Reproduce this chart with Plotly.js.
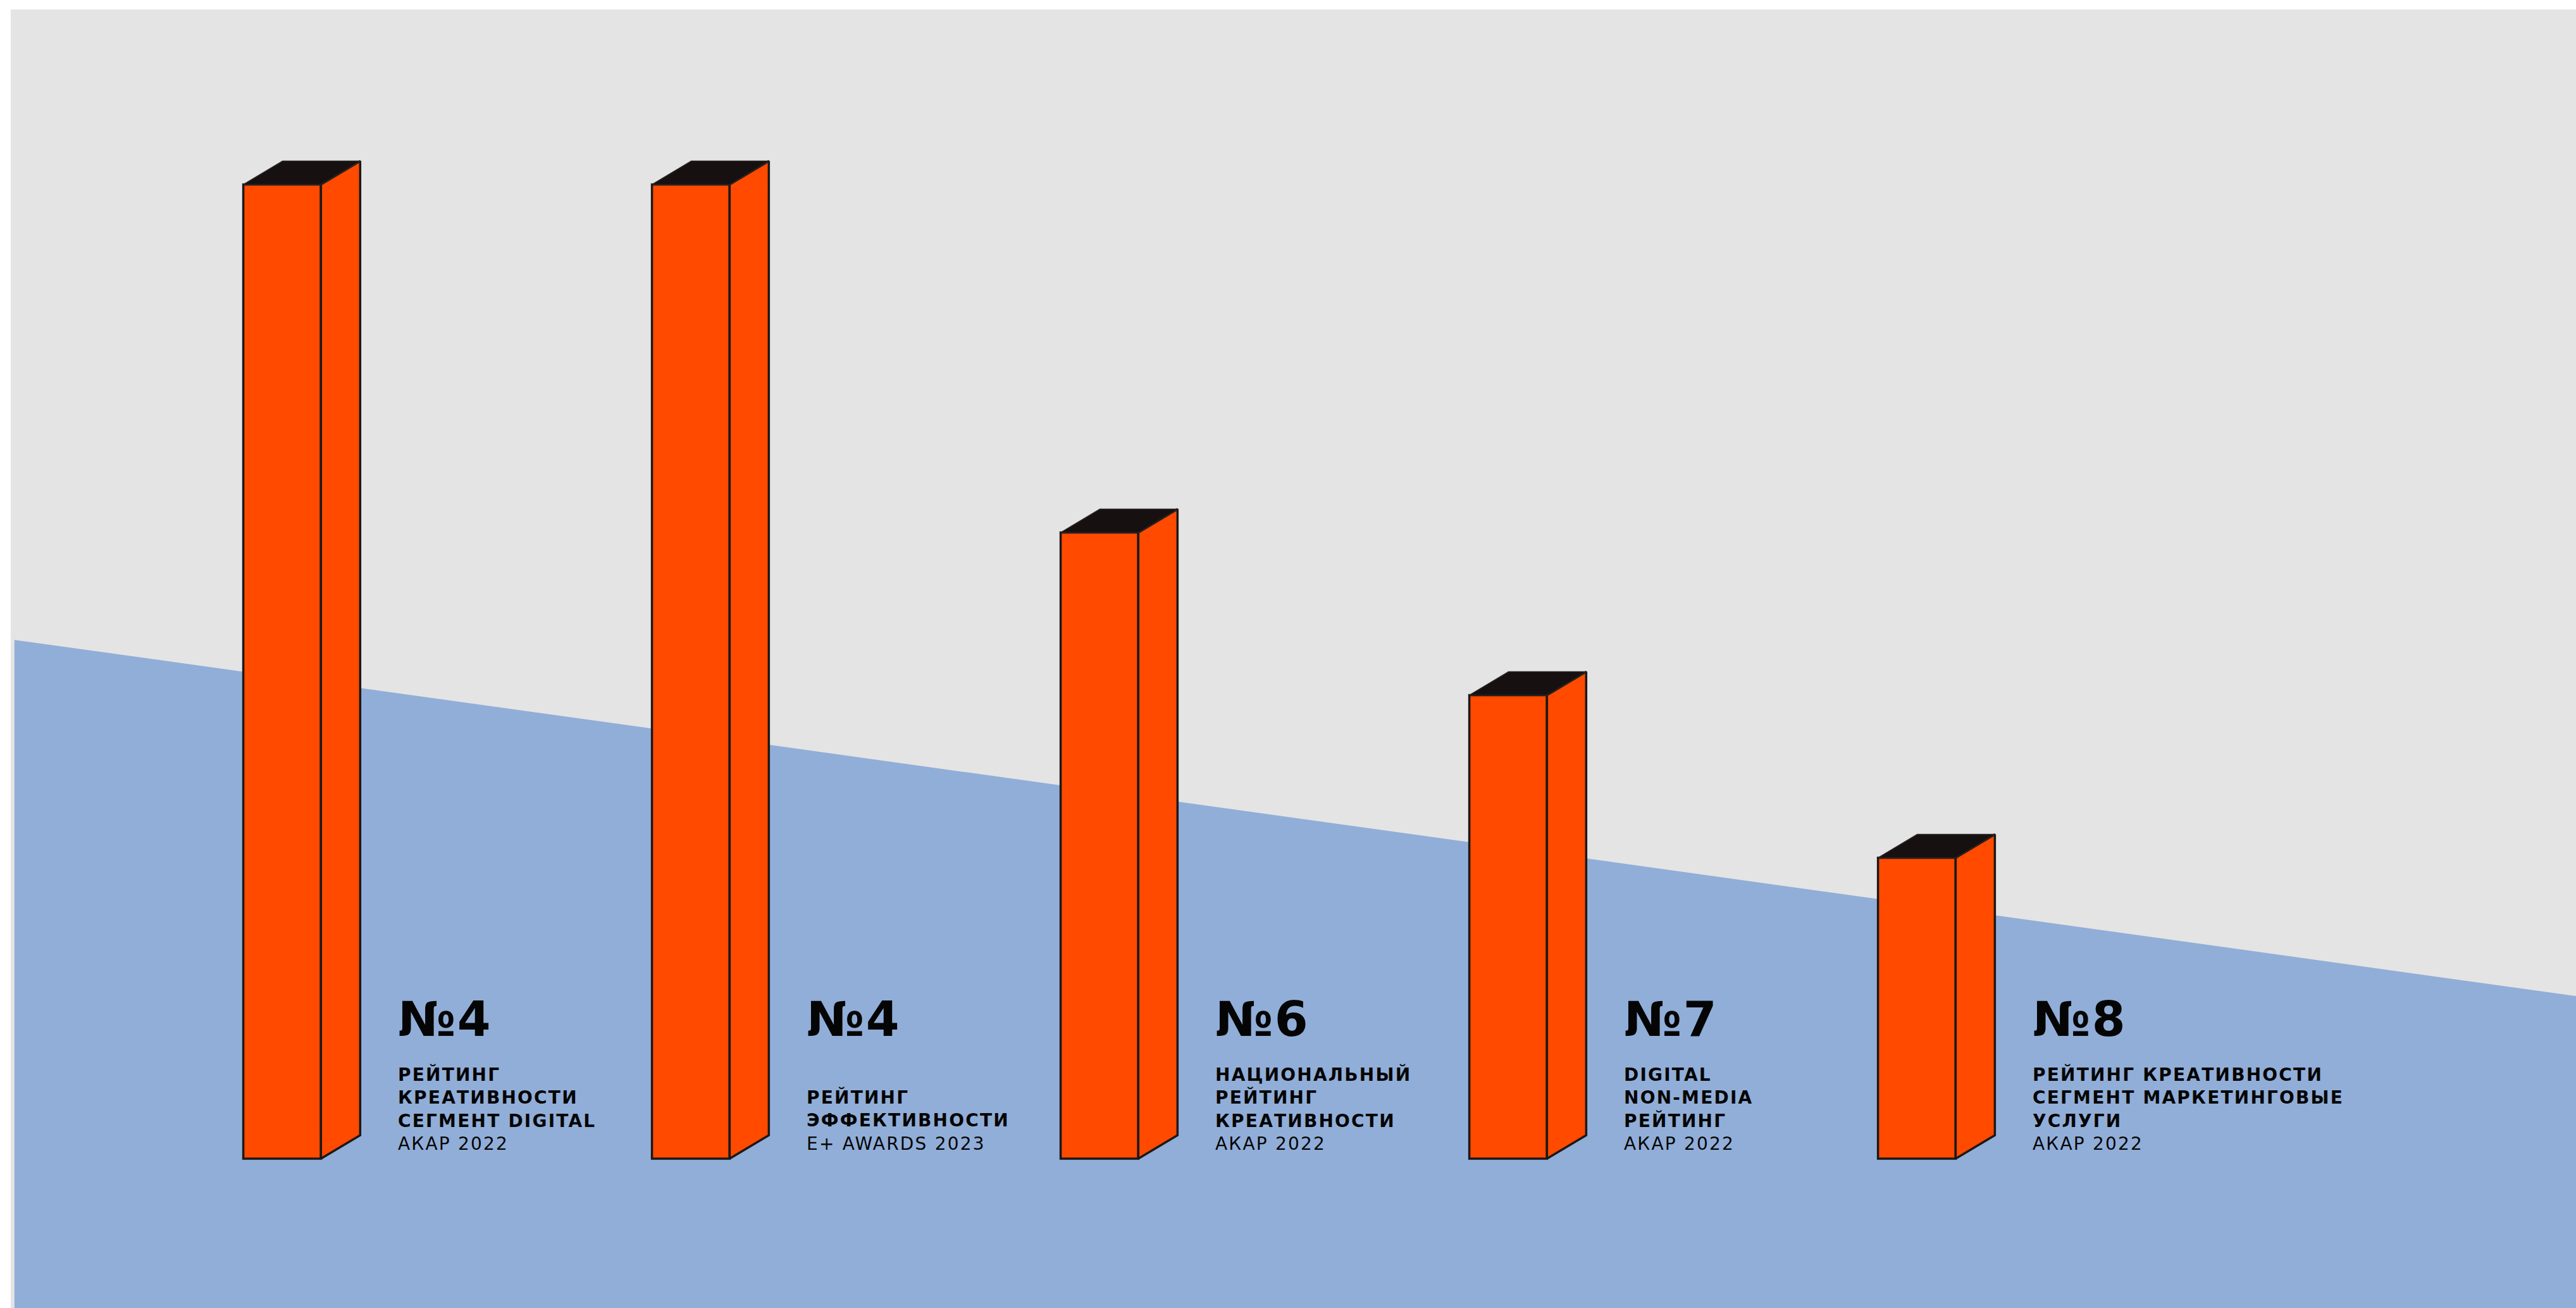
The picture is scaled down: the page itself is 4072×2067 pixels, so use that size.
<!DOCTYPE html>
<html>
<head>
<meta charset="utf-8">
<script src="https://cdn.plot.ly/plotly-3.0.1.min.js"></script>
<style>
  html, body { margin: 0; padding: 0; background: #ffffff; }
  #chart { width: 4072px; height: 2067px; }
</style>
</head>
<body>
<div id="chart"></div>
<script>
// ---- Data ----
const ranks = ['№4', '№4', '№6', '№7', '№8'];
const descBold = [
  ['РЕЙТИНГ', 'КРЕАТИВНОСТИ', 'СЕГМЕНТ DIGITAL'],
  ['РЕЙТИНГ', 'ЭФФЕКТИВНОСТИ'],
  ['НАЦИОНАЛЬНЫЙ', 'РЕЙТИНГ', 'КРЕАТИВНОСТИ'],
  ['DIGITAL', 'NON-MEDIA', 'РЕЙТИНГ'],
  ['РЕЙТИНГ КРЕАТИВНОСТИ', 'СЕГМЕНТ МАРКЕТИНГОВЫЕ', 'УСЛУГИ']
];
const descRegular = ['АКАР 2022', 'E+ AWARDS 2023', 'АКАР 2022', 'АКАР 2022', 'АКАР 2022'];
const barValues = [5.99, 5.99, 3.85, 2.85, 1.85];
// declining background band (start and end level)
const trendX = [-0.655, 5.613];
const trendY = [3.19, 1.00];

// ---- Styling ----
const ORANGE = '#FF4A00';
const DARK = '#161010';
const EDGE = '#1b1818';
const BLUE = '#91AED8';
const GRAY = '#E4E4E4';
const barWidth = 0.19;
const depthX = 0.096;
const depthY = 0.144;
const xRange = [-0.664, 5.613];
const yRange = [-0.918, 7.066];

const idx = barValues.map((_, i) => i);
const traces = [];

// front faces
traces.push({
  type: 'bar',
  x: idx,
  y: barValues,
  width: barWidth,
  marker: { color: ORANGE, line: { color: EDGE, width: 3.5 } },
  hoverinfo: 'skip'
});

// side faces and top faces computed from values
barValues.forEach((v, i) => {
  const l = i - barWidth / 2, r = i + barWidth / 2;
  traces.push({
    type: 'scatter', mode: 'lines', fill: 'toself',
    x: [r, r + depthX, r + depthX, r, r],
    y: [0, depthY, v + depthY, v, 0],
    fillcolor: ORANGE,
    line: { color: EDGE, width: 3.5 },
    hoverinfo: 'skip'
  });
  traces.push({
    type: 'scatter', mode: 'lines', fill: 'toself',
    x: [l, l + depthX, r + depthX, r, l],
    y: [v, v + depthY, v + depthY, v, v],
    fillcolor: DARK,
    line: { color: '#2a2626', width: 1.5 },
    hoverinfo: 'skip'
  });
});

const annotations = [];
const FONT = 'DejaVu Sans, Liberation Sans, sans-serif';
ranks.forEach((rk, i) => {
  annotations.push({
    xref: 'x', yref: 'y', x: i + 0.28, y: 0.86,
    xanchor: 'left', yanchor: 'middle', align: 'left', showarrow: false,
    text: '<b>' + rk + '</b>',
    font: { family: FONT, size: 76, color: '#050505' }
  });
  annotations.push({
    xref: 'x', yref: 'y', x: i + 0.28, y: 0.02,
    xanchor: 'left', yanchor: 'bottom', align: 'left', showarrow: false,
    text: descBold[i].map(s => '<b>' + s + '</b>').join('<br>') + '<br>' + descRegular[i],
    font: { family: FONT, size: 28, color: '#050505' }
  });
});

const layout = {
  width: 4072, height: 2067,
  margin: { l: 17, r: 0, t: 15, b: 0, pad: 0 },
  paper_bgcolor: '#ffffff',
  plot_bgcolor: GRAY,
  showlegend: false,
  bargap: 0,
  xaxis: { range: xRange, showgrid: false, zeroline: false, showticklabels: false, ticks: '', showline: false, fixedrange: true },
  yaxis: { range: yRange, showgrid: false, zeroline: false, showticklabels: false, ticks: '', showline: false, fixedrange: true },
  shapes: [{
    type: 'path', xref: 'x', yref: 'y', layer: 'below',
    path: 'M ' + trendX[0] + ',' + trendY[0] + ' L ' + trendX[1] + ',' + trendY[1] +
          ' L ' + trendX[1] + ',' + yRange[0] + ' L ' + trendX[0] + ',' + yRange[0] + ' Z',
    fillcolor: BLUE, line: { width: 0 }
  }],
  annotations: annotations
};

Plotly.newPlot('chart', traces, layout, { displayModeBar: false, staticPlot: true }).then(() => {
  document.querySelectorAll('.annotation-text').forEach(el => {
    el.style.letterSpacing = '2.2px';
  });
});
</script>
</body>
</html>
